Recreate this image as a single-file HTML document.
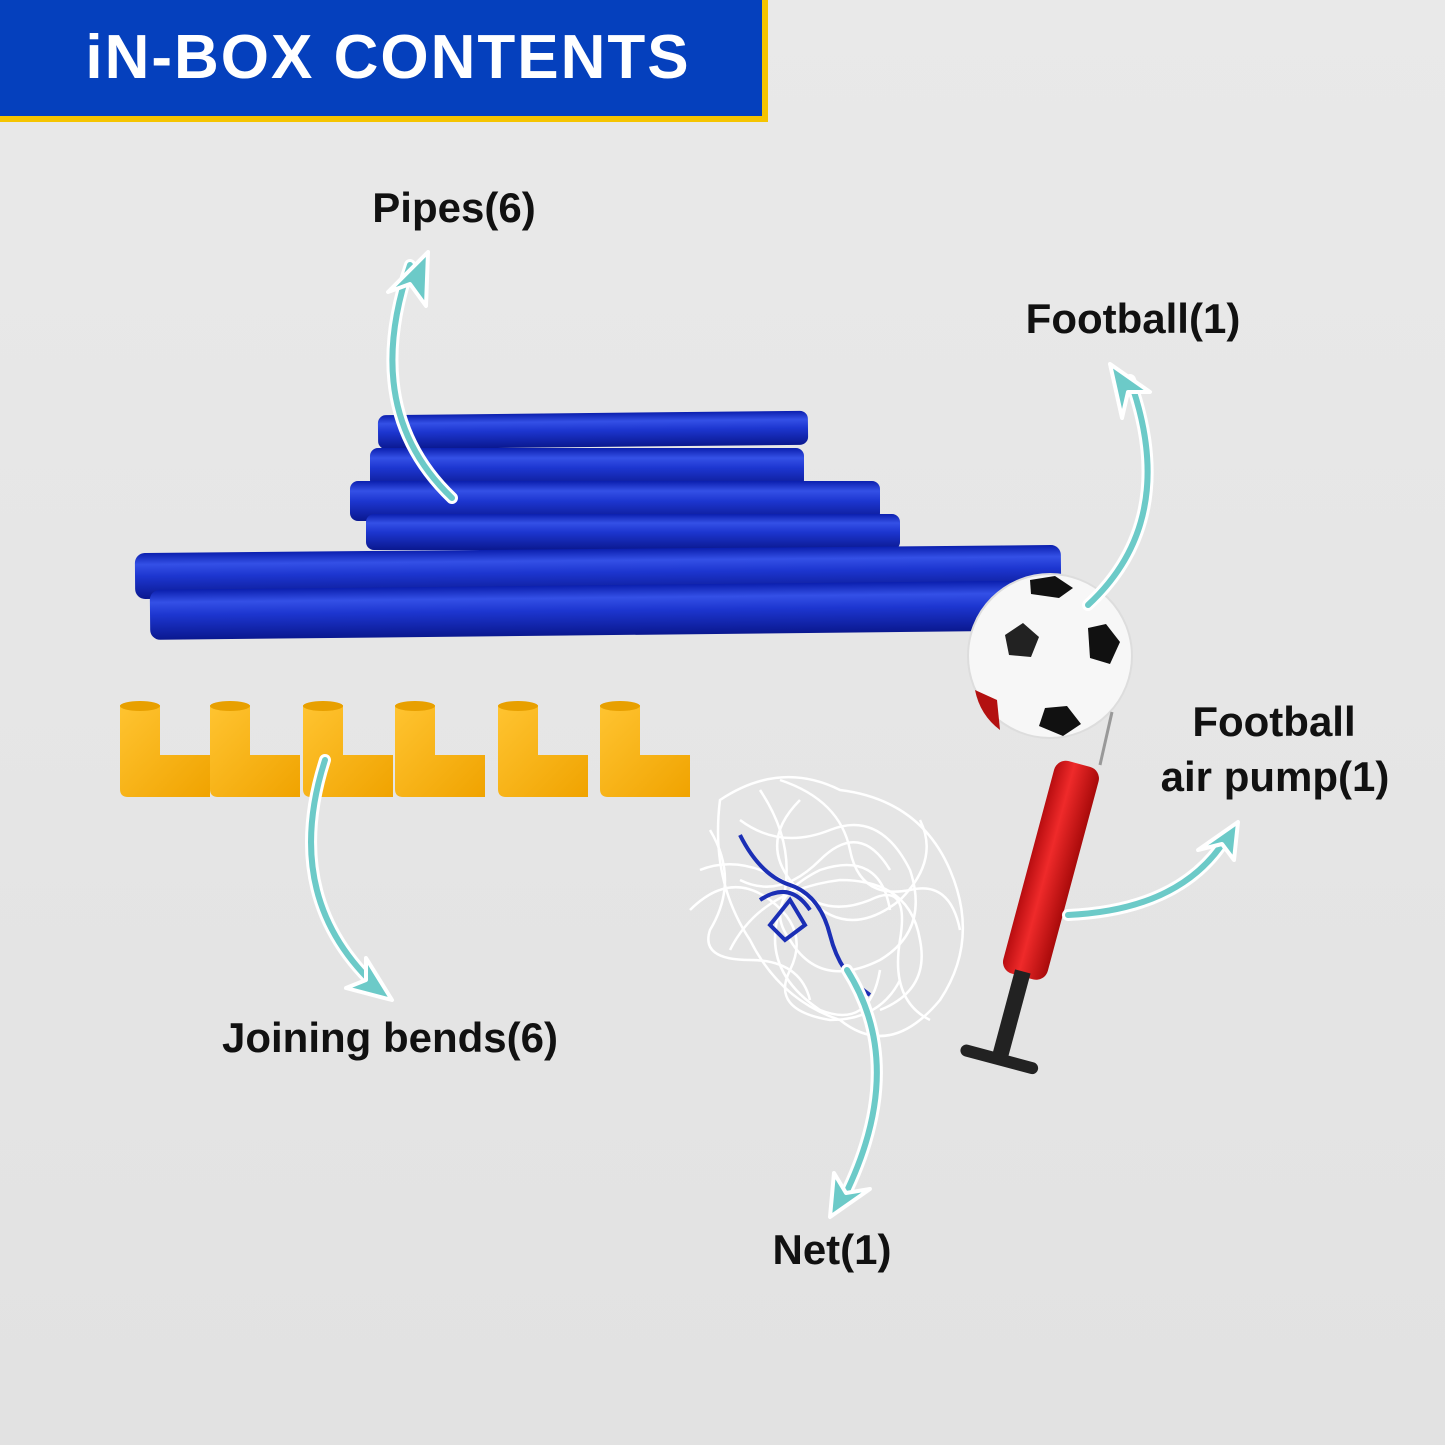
<!DOCTYPE html>
<html><head><meta charset="utf-8"><style>
html,body{margin:0;padding:0;background:#e6e6e6;}
svg{display:block}
text{font-family:"Liberation Sans",sans-serif;}
</style></head><body>
<svg width="1445" height="1445" viewBox="0 0 1445 1445" xmlns="http://www.w3.org/2000/svg">
<defs>
<linearGradient id="bg" x1="0" y1="0" x2="0" y2="1"><stop offset="0" stop-color="#e9e9e9"/><stop offset="1" stop-color="#e2e2e2"/></linearGradient>
<linearGradient id="pipe" x1="0" y1="0" x2="0" y2="1"><stop offset="0" stop-color="#0b1fae"/><stop offset="0.25" stop-color="#3450e6"/><stop offset="0.5" stop-color="#1d36d0"/><stop offset="1" stop-color="#0a188f"/></linearGradient>
<linearGradient id="yel" x1="0" y1="0" x2="1" y2="1"><stop offset="0" stop-color="#ffc431"/><stop offset="1" stop-color="#f0a300"/></linearGradient>
<linearGradient id="red" x1="0" y1="0" x2="1" y2="0"><stop offset="0" stop-color="#b80d10"/><stop offset="0.4" stop-color="#ef2a2a"/><stop offset="1" stop-color="#a80a0a"/></linearGradient>
</defs>
<rect width="1445" height="1445" fill="url(#bg)"/>
<rect x="0" y="0" width="768" height="122" fill="#f5c400"/>
<rect x="0" y="0" width="762" height="116" fill="#0540bd"/>
<text x="388" y="78" text-anchor="middle" fill="#fff" font-size="62" font-weight="bold" letter-spacing="2">iN-BOX CONTENTS</text>

<g>
<rect x="378" y="413" width="430" height="34" rx="8" fill="url(#pipe)" transform="rotate(-0.6 593 430)"/>
<rect x="370" y="448" width="434" height="40" rx="8" fill="url(#pipe)"/>
<rect x="350" y="481" width="530" height="40" rx="8" fill="url(#pipe)"/>
<rect x="366" y="514" width="534" height="36" rx="8" fill="url(#pipe)"/>
<rect x="135" y="549" width="926" height="46" rx="10" fill="url(#pipe)" transform="rotate(-0.5 598 572)"/>
<rect x="150" y="585" width="935" height="50" rx="10" fill="url(#pipe)" transform="rotate(-0.6 617 610)"/>
</g>

<circle cx="1050" cy="656" r="82" fill="#f7f7f7"/>
<circle cx="1050" cy="656" r="82" fill="none" stroke="#ddd" stroke-width="2"/>
<path d="M1030 580 l25 -4 l18 12 l-14 10 l-28 -4z" fill="#111"/>
<path d="M1005 635 l18 -12 l16 14 l-8 20 l-22 -2z" fill="#222"/>
<path d="M1088 628 l18 -4 l14 18 l-10 22 l-20 -6z" fill="#111"/>
<path d="M1045 708 l22 -2 l14 18 l-18 12 l-24 -10z" fill="#111"/>
<path d="M975 690 q5 25 25 40 l-3 -30z" fill="#b31010"/>

<g fill="url(#yel)">
<g id="L"><path d="M120 705 h40 v50 h50 v42 h-82 q-8 0 -8 -8z"/><ellipse cx="140" cy="706" rx="20" ry="5" fill="#e8a000"/></g>
<use href="#L" x="90"/>
<use href="#L" x="183"/>
<use href="#L" x="275"/>
<use href="#L" x="378"/>
<use href="#L" x="480"/>
</g>

<g fill="none" stroke="#fff" stroke-width="2.5">
<path d="M720 800 q60 -40 120 -10 q80 10 110 80 q30 70 -10 130 q-50 60 -100 20 q-60 -20 -90 -80 q-40 -60 -30 -140z"/>
<path d="M740 820 q40 30 90 10 q50 -20 80 40 q20 60 -30 90 q-60 30 -90 -20 q-30 -40 30 -70 q60 -20 70 40"/>
<path d="M700 870 q50 -20 110 30 q40 40 90 0 q40 -40 20 -80"/>
<path d="M730 950 q30 -60 110 -70 q70 0 80 60 q10 50 -40 70"/>
<path d="M760 790 q40 60 20 120 q-20 60 40 100 q50 20 60 -40"/>
<path d="M690 910 q40 -40 80 -10 q40 30 20 70 q-20 40 40 50 q50 0 70 -40"/>
<path d="M780 780 q60 20 70 70 q10 50 60 40 q40 -10 50 40"/>
<path d="M710 830 q30 50 0 100 q-10 30 40 30 q50 0 60 40"/>
<path d="M800 800 q-40 40 -10 80 q30 40 80 20 q40 -20 30 40 q-10 60 30 80"/>
<path d="M740 880 q40 20 80 -20 q40 -40 70 10"/>
</g>
<g fill="none" stroke="#1b2fb5" stroke-width="4">
<path d="M740 835 q20 40 50 50 q30 10 40 50 q10 40 40 60"/>
<path d="M760 900 q30 -20 50 10"/>
<path d="M770 925 l20 -25 l15 25 l-20 15z"/>
</g>

<line x1="1112" y1="712" x2="1100" y2="765" stroke="#999" stroke-width="3"/>
<g transform="rotate(15 1050 870)">
<rect x="1028" y="760" width="46" height="220" rx="12" fill="url(#red)"/>
<rect x="1042" y="975" width="16" height="90" fill="#222"/>
<rect x="1010" y="1060" width="80" height="12" rx="6" fill="#222"/>
</g>

<g fill="none" stroke-linecap="round">
<g stroke="#fff" stroke-width="12">
<path d="M452 498 Q360 410 410 265"/>
<path d="M1088 605 Q1180 520 1130 380"/>
<path d="M325 760 Q280 900 380 990"/>
<path d="M1068 915 Q1180 910 1225 840"/>
<path d="M847 970 Q910 1070 840 1205"/>
</g>
<g stroke="#6ccac8" stroke-width="6">
<path d="M452 498 Q360 410 410 265"/>
<path d="M1088 605 Q1180 520 1130 380"/>
<path d="M325 760 Q280 900 380 990"/>
<path d="M1068 915 Q1180 910 1225 840"/>
<path d="M847 970 Q910 1070 840 1205"/>
</g>
</g>
<g fill="#6ccac8" stroke="#fff" stroke-width="4" stroke-linejoin="round">
<path d="M428 252 l-40 40 l22 -8 l16 22z"/>
<path d="M1110 364 l40 28 l-22 0 l-6 26z"/>
<path d="M392 1000 l-46 -12 l20 -8 l0 -22z"/>
<path d="M1238 822 l-4 38 l-12 -16 l-24 6z"/>
<path d="M830 1217 l4 -44 l12 20 l24 -4z"/>
</g>

<g fill="#111" font-size="42" font-weight="bold">
<text x="454" y="222" text-anchor="middle">Pipes(6)</text>
<text x="1133" y="333" text-anchor="middle">Football(1)</text>
<text x="1274" y="736" text-anchor="middle">Football</text>
<text x="1275" y="791" text-anchor="middle">air pump(1)</text>
<text x="390" y="1052" text-anchor="middle">Joining bends(6)</text>
<text x="832" y="1264" text-anchor="middle">Net(1)</text>
</g>
</svg>
</body></html>
